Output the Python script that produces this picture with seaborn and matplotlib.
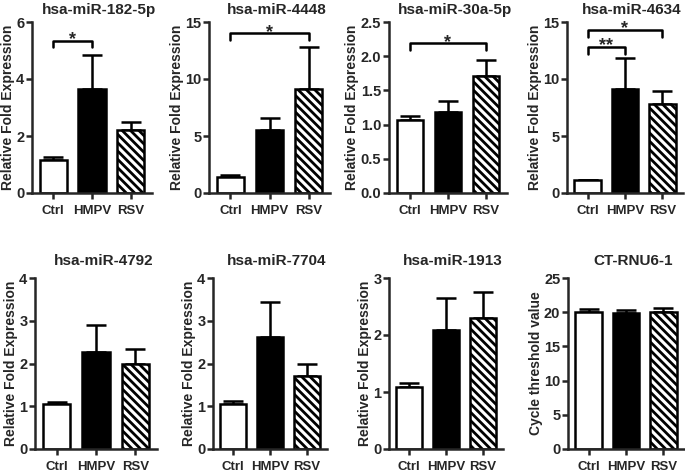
import matplotlib
matplotlib.use("Agg")
import matplotlib.pyplot as plt
import pandas as pd
import seaborn as sns

groups = ["Ctrl", "HMPV", "RSV"]

titles = ["hsa-miR-182-5p", "hsa-miR-4448", "hsa-miR-30a-5p", "hsa-miR-4634",
          "hsa-miR-4792", "hsa-miR-7704", "hsa-miR-1913", "CT-RNU6-1"]
ylabels = ["Relative Fold Expression"] * 7 + ["Cycle threshold value"]

means = [
    [1.15, 3.65, 2.20],
    [1.40, 5.50, 9.10],
    [1.06, 1.19, 1.71],
    [1.10, 9.10, 7.85],
    [1.05, 2.27, 1.98],
    [1.06, 2.63, 1.70],
    [1.08, 2.09, 2.30],
    [20.0, 19.9, 20.1],
]
sems = [
    [0.10, 1.20, 0.30],
    [0.20, 1.10, 3.70],
    [0.06, 0.16, 0.23],
    [0.08, 2.70, 1.10],
    [0.06, 0.63, 0.37],
    [0.06, 0.82, 0.28],
    [0.07, 0.56, 0.45],
    [0.50, 0.40, 0.50],
]
yticks = [
    [0, 2, 4, 6],
    [0, 5, 10, 15],
    [0.0, 0.5, 1.0, 1.5, 2.0, 2.5],
    [0, 5, 10, 15],
    [0, 1, 2, 3, 4],
    [0, 1, 2, 3, 4],
    [0, 1, 2, 3],
    [0, 5, 10, 15, 20, 25],
]
# significance brackets: panel -> (from, to, height, label)
brackets = {
    0: [(0, 1, 5.35, "*")],
    1: [(0, 2, 14.0, "*")],
    2: [(0, 2, 2.19, "*")],
    3: [(0, 1, 12.8, "**"), (0, 2, 14.3, "*")],
}

# axes boxes in pixels: left, width (figure 685 x 475)
boxes = [(32, 120), (209, 121), (389, 118), (567, 116),
         (35, 122), (213, 114), (389, 114), (568, 116)]
rows = [(22, 193), (278, 449)]

W, H = 685, 475
sns.set_style("ticks")
plt.rcParams["font.family"] = ["Liberation Sans", "DejaVu Sans"]
plt.rcParams["font.weight"] = "bold"
plt.rcParams["hatch.linewidth"] = 2.0

fig = plt.figure(figsize=(W / 100, H / 100), dpi=100)
palette = {"Ctrl": "white", "HMPV": "black", "RSV": "white"}

for k in range(8):
    left, width = boxes[k]
    top, bottom = rows[k // 4]
    ax = fig.add_axes([left / W, 1 - bottom / H, width / W, (bottom - top) / H])
    df = pd.DataFrame({"group": groups, "value": means[k]})
    sns.barplot(data=df, x="group", y="value", hue="group", palette=palette,
                width=0.7, edgecolor="black", linewidth=1.8, legend=False,
                ax=ax, zorder=2)
    for patch, g in zip(ax.patches, groups):
        if g == "RSV":
            patch.set_hatch("\\\\\\\\")
    ax.errorbar(range(3), means[k], yerr=[[0, 0, 0], sems[k]], fmt="none",
                ecolor="black", elinewidth=1.8, capsize=7, capthick=1.8, zorder=1)
    ax.set_xlim(-0.55, 2.55)
    ax.set_ylim(0, yticks[k][-1])
    ax.set_yticks(yticks[k])
    if k == 2:
        ax.set_yticklabels([f"{t:.1f}" for t in yticks[k]])
    sns.despine(ax=ax)
    for side in ["left", "bottom"]:
        ax.spines[side].set_linewidth(1.8)
    ax.tick_params(axis="both", width=1.8, length=4, labelsize=9.5, pad=1.5)
    ax.tick_params(axis="y", labelsize=10.5)
    ax.tick_params(axis="x", pad=5)
    for lab in ax.get_xticklabels() + ax.get_yticklabels():
        lab.set_fontweight("bold")
    ax.set_xlabel("")
    ax.set_ylabel(ylabels[k], fontsize=10, fontweight="bold", labelpad=1)
    ax.text(0.56, 1.03 if k < 4 else 1.06, titles[k], transform=ax.transAxes,
            ha="center", va="bottom", fontsize=11, fontweight="bold")
    ymax = yticks[k][-1]
    for i, j, yb, lab in brackets.get(k, []):
        leg = ymax * 0.04
        ax.plot([i, i, j, j], [yb - leg, yb, yb, yb - leg], color="black",
                lw=1.8, clip_on=False)
        ax.text((i + j) / 2, yb - 0.02 * ymax, lab, ha="center", va="baseline",
                fontsize=13, fontweight="bold")

fig.savefig("out.png", dpi=100)
